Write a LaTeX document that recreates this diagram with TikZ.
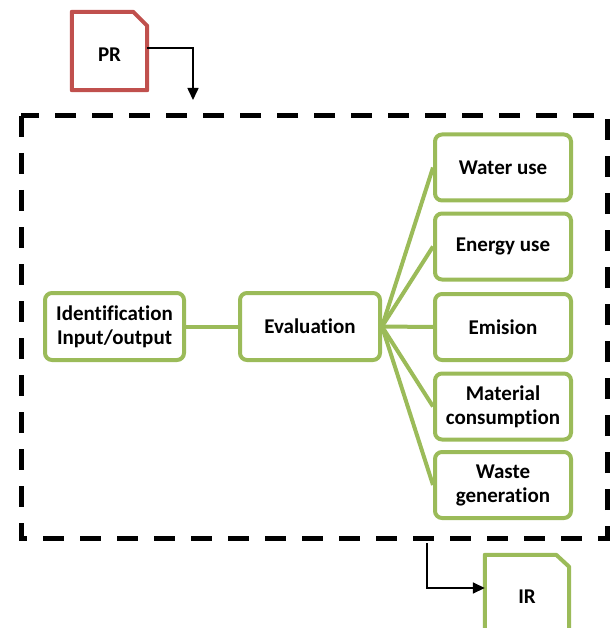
\documentclass[tikz,border=0pt]{standalone}
\usepackage{fontspec}
\setmainfont{Carlito}[Ligatures=NoCommon]
\usetikzlibrary{arrows.meta}
\definecolor{gr}{HTML}{9BBB59}
\definecolor{rd}{HTML}{C0504D}
\tikzset{
  gbox/.style={draw=gr, line width=4pt, rounded corners=7pt, fill=white,
    align=center, inner sep=0pt, font=\fontsize{21}{24}\selectfont\bfseries},
  wbox/.style={gbox, minimum width=136pt, minimum height=66pt},
  doc/.style={draw=none, inner sep=0pt, font=\fontsize{21}{24}\selectfont\bfseries},
  gline/.style={draw=gr, line width=4pt},
  blk/.style={draw=black, line width=1.6pt, -{Triangle[length=12pt,width=11pt]}},
  frame/.style={draw=black, line width=5pt, dash pattern=on 21pt off 16pt}
}
\begin{document}
\begin{tikzpicture}[x=1pt,y=-1pt]
\useasboundingbox (0,0) rectangle (612,628);
% dashed frame
\draw[frame] (21,116) rectangle (607,538);
% PR document
\node[doc, minimum width=75pt, minimum height=78pt] (pr) at (109.5,51) {};
\node[doc] (prt) at (109.5,55) {PR};
\draw[draw=rd, line width=4pt, line join=round]
  (pr.south west) |- ([xshift=-14pt]pr.north east) -- ([yshift=-14pt]pr.north east) -- (pr.south east) -- cycle;
% IR document
\node[doc, minimum width=84pt, minimum height=84pt] (ir) at (527,597) {};
\node[doc] (irt) at (527,597) {IR};
\draw[draw=gr, line width=4pt, line join=round]
  (ir.south west) |- ([xshift=-13pt]ir.north east) -- ([yshift=-12pt]ir.north east) -- (ir.south east) -- cycle;
% arrows
\coordinate (prend) at (193,100);
\coordinate (irstart) at (427,543);
\draw[blk] ([yshift=3pt]pr.east) -| (prend);
\draw[blk] (irstart) |- ([yshift=9pt]ir.west);
% boxes
\node[gbox, minimum width=139pt, minimum height=67pt] (id) at (114.5,326.5) {Identification\\Input/output};
\node[gbox, minimum width=140pt, minimum height=67pt] (ev) at (310,326.5) {Evaluation};
\node[wbox] (wa) at (503,167.5) {Water use};
\node[wbox] (en) at (503,246.5) {Energy use};
\node[wbox] (em) at (503,327) {Emision};
\node[wbox] (ma) at (503,406.5) {Material\\consumption};
\node[wbox] (ws) at (503,485) {Waste\\generation};
% connectors
\draw[gline] (id.east) -- (ev.west);
\foreach \t in {wa,en,em,ma,ws} {
  \draw[gline] (ev.east) -- (\t.west);
}
\end{tikzpicture}
\end{document}
